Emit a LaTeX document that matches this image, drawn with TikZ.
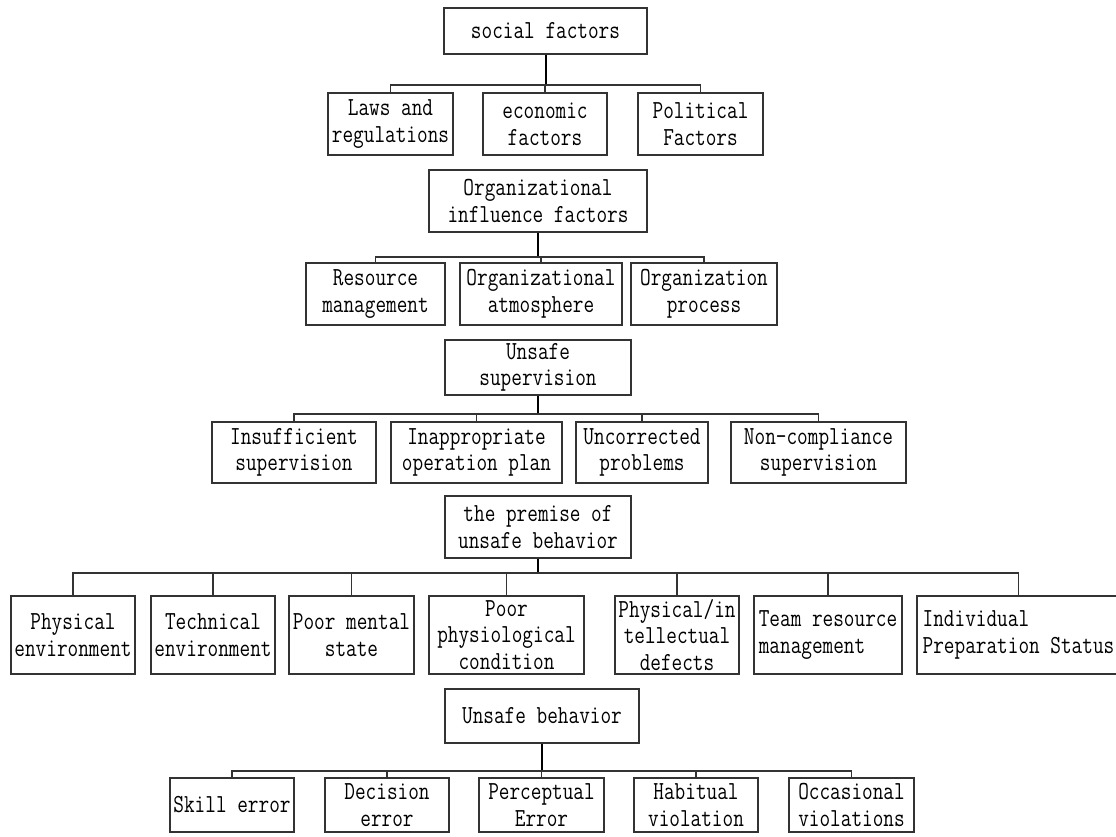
\documentclass[tikz,border=0pt]{standalone}
\usepackage{fontspec}
\setmainfont{Latin Modern Mono}[FakeStretch=0.795]
\usetikzlibrary{positioning}

\begin{document}
\begin{tikzpicture}[
  x=1pt, y=-1pt,
  box/.style={draw=black!80, line width=1.1pt, inner sep=0pt, align=center, font=\fontsize{26}{26.7}\selectfont},
  lbox/.style={box, align=left},
  stem/.style={black, line width=2pt},
  branch/.style={black!80, line width=1.1pt}
]
\useasboundingbox (0,0) rectangle (1116,836);

% social level
\node[box, minimum width=203pt, minimum height=46pt] (social) at (545.5,31) {social factors};
\node[box, minimum width=125pt, minimum height=62pt] (laws) at (390.5,124) {Laws and\\regulations};
\node[box, minimum width=124pt, minimum height=62pt] (econ) at (545,124) {economic\\factors};
\node[box, minimum width=125pt, minimum height=62pt] (polit) at (700.5,124) {Political\\Factors};

% organizational level
\node[box, minimum width=218pt, minimum height=62pt] (orginf) at (538,201) {Organizational\\influence factors};
\node[box, minimum width=139pt, minimum height=62pt] (resmgmt) at (375.5,294) {Resource\\management};
\node[box, minimum width=162pt, minimum height=62pt] (orgatm) at (541,294) {Organizational\\atmosphere};
\node[box, minimum width=146pt, minimum height=62pt] (orgproc) at (704,294) {Organization\\process};

% supervision level
\node[box, minimum width=186pt, minimum height=55pt] (unsup) at (538,367.5) {Unsafe\\supervision};
\node[box, minimum width=164pt, minimum height=61pt] (insuff) at (294,452.5) {Insufficient\\supervision};
\node[box, minimum width=171pt, minimum height=61pt] (inappr) at (476.5,452.5) {Inappropriate\\operation plan};
\node[box, minimum width=132pt, minimum height=61pt] (uncorr) at (642,452.5) {Uncorrected\\problems};
\node[box, minimum width=175pt, minimum height=61pt] (noncomp) at (818.5,452.5) {Non-compliance\\supervision};

% premise level
\node[box, minimum width=186pt, minimum height=62pt] (premise) at (538,527) {the premise of\\unsafe behavior};
\node[box, minimum width=124pt, minimum height=78pt] (physenv) at (73,635) {Physical\\environment};
\node[box, minimum width=124pt, minimum height=78pt] (techenv) at (213,635) {Technical\\environment};
\node[box, minimum width=125pt, minimum height=78pt] (mental) at (351.5,635) {Poor mental\\state};
\node[box, minimum width=155pt, minimum height=78pt] (physio) at (506.5,635) {Poor\\physiological\\condition};
\node[box, minimum width=124pt, minimum height=78pt] (defects) at (677,635) {Physical/in\\tellectual\\defects};
\node[lbox, minimum width=148pt, minimum height=78pt] (team) at (828,635) {Team resource\\management};
\node[lbox, minimum width=203pt, minimum height=78pt] (indiv) at (1018.5,635) {Individual\\Preparation Status};

% behavior level
\node[box, minimum width=194pt, minimum height=54pt] (unsbeh) at (542,716) {Unsafe behavior};
\node[box, minimum width=124pt, minimum height=54pt] (skill) at (232,805) {Skill error};
\node[box, minimum width=124pt, minimum height=54pt] (decision) at (387,805) {Decision\\error};
\node[box, minimum width=125pt, minimum height=54pt] (percept) at (541.5,805) {Perceptual\\Error};
\node[box, minimum width=124pt, minimum height=54pt] (habit) at (696,805) {Habitual\\violation};
\node[box, minimum width=125pt, minimum height=54pt] (occas) at (851.5,805) {Occasional\\violations};

% junctions
\coordinate (j1) at (545.5,85);
\coordinate (j2) at (538,257);
\coordinate (j3) at (538,414);
\coordinate (j4) at (538,573);
\coordinate (j5) at (542,771);

\draw[stem] (social.south) -- (j1);
\foreach \c in {laws,econ,polit} \draw[branch] (j1) -| (\c.north);
\draw[stem] (orginf.south) -- (j2);
\foreach \c in {resmgmt,orgatm,orgproc} \draw[branch] (j2) -| (\c.north);
\draw[stem] (unsup.south) -- (j3);
\foreach \c in {insuff,inappr,uncorr,noncomp} \draw[branch] (j3) -| (\c.north);
\draw[stem] (premise.south) -- (j4);
\foreach \c in {physenv,techenv,mental,physio,defects,team,indiv} \draw[branch] (j4) -| (\c.north);
\draw[stem] (unsbeh.south) -- (j5);
\foreach \c in {skill,decision,percept,habit,occas} \draw[branch] (j5) -| (\c.north);
\end{tikzpicture}
\end{document}
